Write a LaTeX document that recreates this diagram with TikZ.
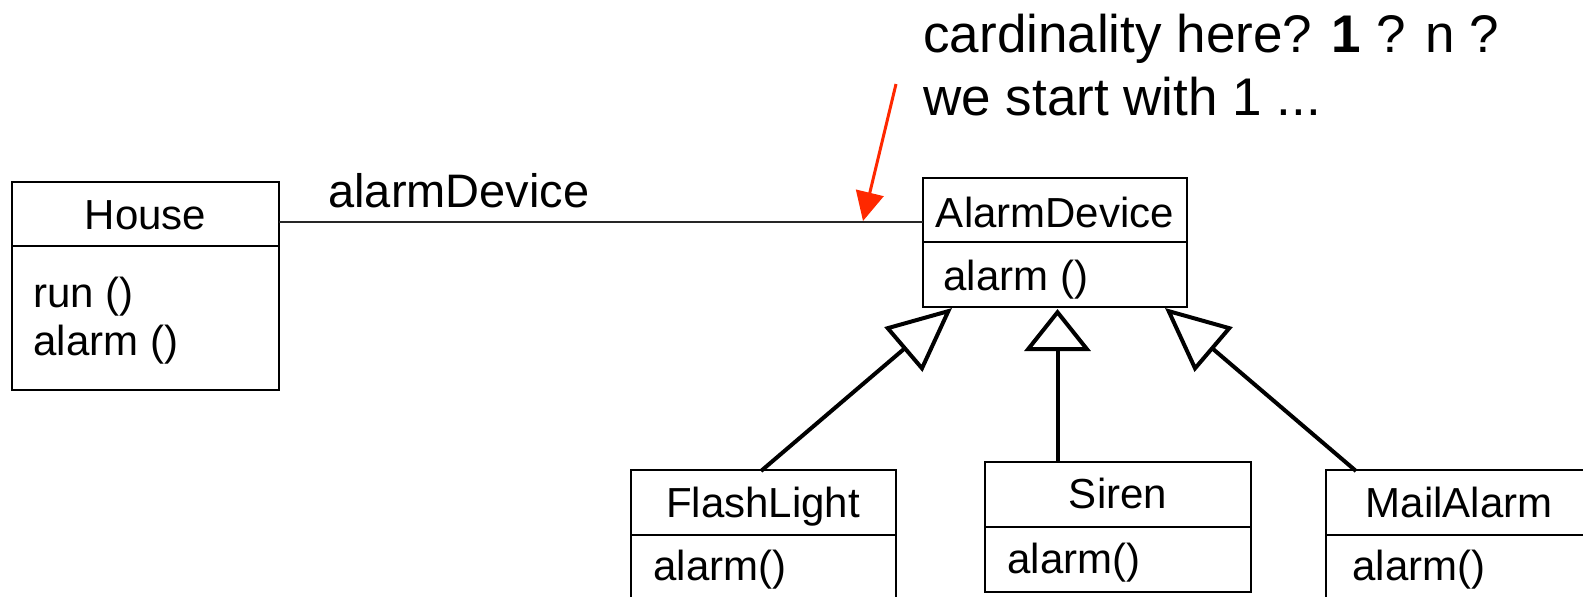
\documentclass[tikz,border=0pt]{standalone}
\usepackage{fontspec}
\setmainfont{Liberation Sans}
\usetikzlibrary{arrows.meta,fit}
\definecolor{notered}{RGB}{255,40,0}
\begin{document}
\begin{tikzpicture}[x=0.5pt,y=-0.5pt,
  classbox/.style={draw=black, line width=1pt, inner sep=0pt},
  divider/.style={draw=black, line width=1pt},
  cname/.style={anchor=base, inner sep=0pt, font=\fontsize{21}{25}\selectfont},
  meth/.style={anchor=base west, inner sep=0pt, font=\fontsize{21}{25}\selectfont},
  assoc/.style={draw=black!85, line width=1pt},
  assoclabel/.style={anchor=base west, inner sep=0pt, font=\fontsize{23.5}{28}\selectfont},
  notetext/.style={anchor=base west, inner sep=0pt, font=\fontsize{26.5}{31}\selectfont},
  notearrow/.style={draw=notered, line width=1.5pt, -{Triangle[length=14.5pt,width=14pt,fill=notered]}},
  inhdiag/.style={draw=black, line width=2pt, -{Triangle[open,length=32pt,width=29pt]}},
  inhvert/.style={draw=black, line width=2pt, -{Triangle[open,length=21pt,width=33pt]}}
]
\useasboundingbox (0,0) rectangle (1583,596);
\clip (0,0) rectangle (1583,596);

% House
\node[classbox, fit={(12,182) (279,390)}] (house) {};
\draw[divider] (12,246) -- (279,246);
\node[cname] (houseName) at (145.5,229) {House};
\node[meth] (houseRun) at (33,307) {run ()};
\node[meth] (houseAlarm) at (33,355) {alarm ()};

% AlarmDevice
\node[classbox, fit={(923,178) (1187,307)}] (adev) {};
\draw[divider] (923,242) -- (1187,242);
\node[cname] (adevName) at (1055,227) {AlarmDevice};
\node[meth] (adevAlarm) at (943,290) {alarm ()};

% FlashLight
\node[classbox, fit={(631,470) (896,660)}] (flash) {};
\draw[divider] (631,535) -- (896,535);
\node[cname] (flashName) at (763,517) {FlashLight};
\node[meth] (flashAlarm) at (653,580) {alarm()};

% Siren
\node[classbox, fit={(985,462) (1251,592)}] (siren) {};
\draw[divider] (985,527) -- (1251,527);
\node[cname] (sirenName) at (1118,508) {Siren};
\node[meth] (sirenAlarm) at (1007,573) {alarm()};

% MailAlarm
\node[classbox, fit={(1326,470) (1592,660)}] (mail) {};
\draw[divider] (1326,535) -- (1592,535);
\node[cname] (mailName) at (1459,517) {MailAlarm};
\node[meth] (mailAlarm) at (1352,580) {alarm()};

% association
\coordinate (assocL) at (279,222);
\coordinate (assocR) at (923,222);
\draw[assoc] (assocL) -- (assocR);
\node[assoclabel] (assocLabel) at (328,207) {alarmDevice};

% note
\node[notetext] (note1) at (923,52.5) {cardinality here? \textbf{1} ? n ?};
\node[notetext] (note2) at (923,115) {we start with 1 ...};
\coordinate (noteStart) at (896,84);
\coordinate (noteEnd) at (863,221);
\draw[notearrow] (noteStart) -- (noteEnd);

% generalizations
\coordinate (flashTop) at (761,471);
\coordinate (flashTip) at (952,308);
\draw[inhdiag] (flashTop) -- (flashTip);
\coordinate (sirenTop) at (1057.5,462);
\coordinate (sirenTip) at (1057.5,309);
\draw[inhvert] (sirenTop) -- (sirenTip);
\coordinate (mailTop) at (1356,471);
\coordinate (mailTip) at (1165,308);
\draw[inhdiag] (mailTop) -- (mailTip);
\end{tikzpicture}
\end{document}
